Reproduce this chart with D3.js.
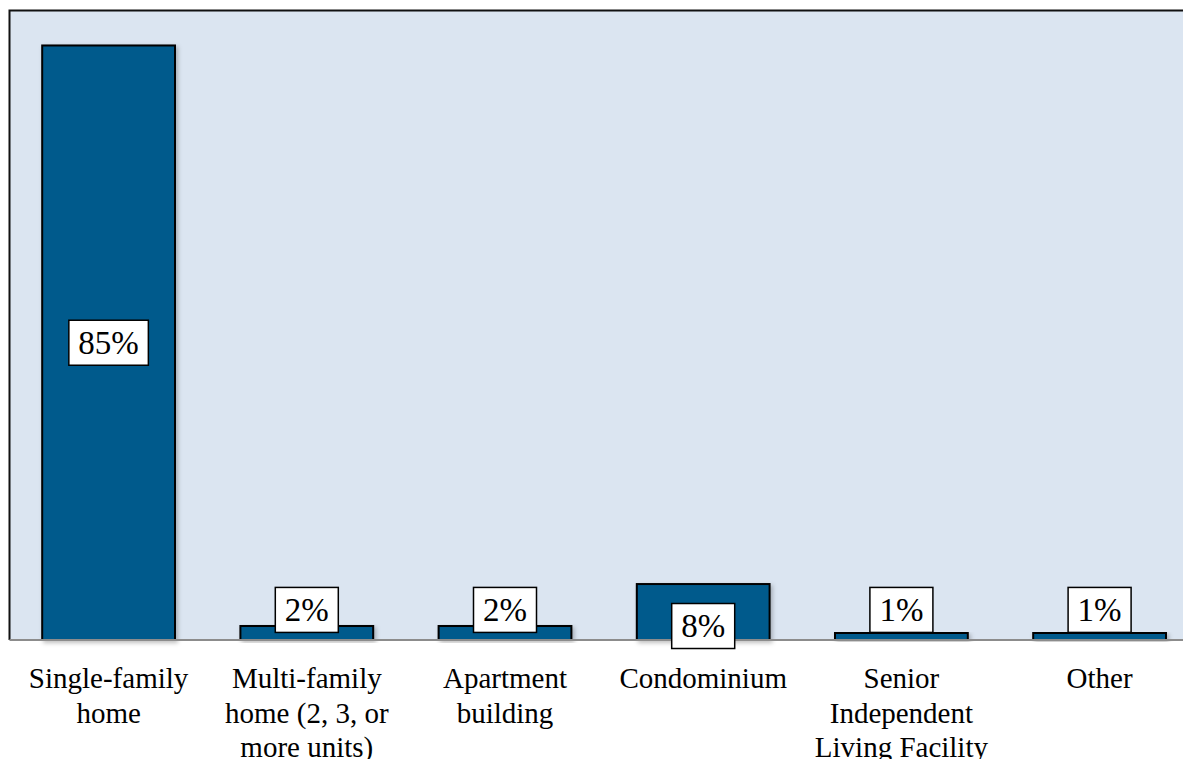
<!DOCTYPE html>
<html>
<head>
<meta charset="utf-8">
<script src="https://cdn.jsdelivr.net/npm/d3@7"></script>
<style>
  html, body { margin: 0; padding: 0; background: #ffffff; }
  svg { display: block; }
</style>
</head>
<body>
<svg id="chart" width="1183" height="759"></svg>
<script>
// ---- data ----
const categories = [
  "Single-family home",
  "Multi-family home (2, 3, or more units)",
  "Apartment building",
  "Condominium",
  "Senior Independent Living Facility",
  "Other"
];
const values = [85, 2, 2, 8, 1, 1];
const valueLabels = ["85%", "2%", "2%", "8%", "1%", "1%"];
// where each data label box is centred, in data units (%)
const labelCenters = [42.5, 4.3, 4.3, 2, 4.3, 4.3];
const yDomain = [0, 90];

// ---- layout ----
const W = 1183, H = 759;
const plot = { left: 9.5, top: 10.5, right: 1198.7, bottom: 640 };
const svg = d3.select("#chart");
const FONT = "'Liberation Serif', 'DejaVu Serif', serif";

const x = d3.scaleBand()
  .domain(categories)
  .range([plot.left, plot.right])
  .paddingInner(0.33)
  .paddingOuter(0.165);
const y = d3.scaleLinear().domain(yDomain).range([plot.bottom, plot.top]);

const defs = svg.append("defs");
const f = defs.append("filter").attr("id", "shadow")
  .attr("x", "-10%").attr("y", "-10%").attr("width", "130%").attr("height", "130%");
f.append("feDropShadow").attr("dx", 2).attr("dy", 2).attr("stdDeviation", 2)
  .attr("flood-color", "#000").attr("flood-opacity", 0.25);

// plot area background
svg.append("rect")
  .attr("x", plot.left).attr("y", plot.top)
  .attr("width", plot.right - plot.left).attr("height", plot.bottom - plot.top)
  .attr("fill", "#dbe5f1");
// top & left border
svg.append("path")
  .attr("d", `M${plot.left},${plot.bottom} L${plot.left},${plot.top} L${plot.right},${plot.top}`)
  .attr("fill", "none").attr("stroke", "#111").attr("stroke-width", 2);

// bars
svg.append("g").selectAll("rect").data(values).join("rect")
  .attr("x", (d, i) => x(categories[i]))
  .attr("y", d => y(d))
  .attr("width", x.bandwidth())
  .attr("height", d => y(0) - y(d))
  .attr("fill", "#005a8c")
  .attr("stroke", "#000")
  .attr("stroke-width", 2)
  .attr("filter", "url(#shadow)");

// x axis line
svg.append("line")
  .attr("x1", plot.left).attr("x2", W + 20)
  .attr("y1", y(0)).attr("y2", y(0))
  .attr("stroke", "#8c8c8c").attr("stroke-width", 2);

// data labels
const lg = svg.append("g");
valueLabels.forEach((t, i) => {
  const cx = x(categories[i]) + x.bandwidth() / 2;
  const cy = y(labelCenters[i]);
  const g = lg.append("g");
  const txt = g.append("text")
    .attr("x", cx).attr("y", cy + 11)
    .attr("text-anchor", "middle")
    .attr("font-family", FONT).attr("font-size", 33)
    .attr("fill", "#000")
    .text(t);
  const tw = txt.node().getComputedTextLength();
  g.insert("rect", "text")
    .attr("x", cx - tw / 2 - 9.5).attr("y", cy - 22.5)
    .attr("width", tw + 19).attr("height", 45)
    .attr("fill", "#fff").attr("stroke", "#000").attr("stroke-width", 1.5);
});

// category labels (wrapped)
const maxW = x.step() * 0.95;
const cg = svg.append("g");
categories.forEach(c => {
  const cx = x(c) + x.bandwidth() / 2;
  const t = cg.append("text")
    .attr("text-anchor", "middle")
    .attr("font-family", FONT).attr("font-size", 29)
    .attr("fill", "#000");
  const words = c.split(" ");
  let lines = [], cur = [];
  const probe = t.append("tspan");
  words.forEach(w => {
    const test = cur.concat(w).join(" ");
    probe.text(test);
    if (probe.node().getComputedTextLength() > maxW && cur.length) {
      lines.push(cur.join(" "));
      cur = [w];
    } else cur.push(w);
  });
  lines.push(cur.join(" "));
  probe.remove();
  lines.forEach((l, k) => {
    t.append("tspan").attr("x", cx).attr("y", 688 + k * 34.5).text(l);
  });
});
</script>
</body>
</html>
